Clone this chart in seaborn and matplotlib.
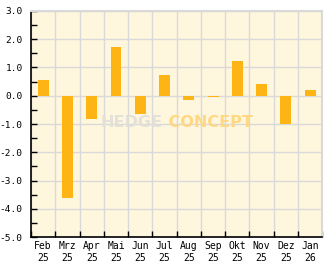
import numpy as np
import pandas as pd
import matplotlib
matplotlib.use("Agg")
import matplotlib.pyplot as plt
from matplotlib.ticker import MultipleLocator, FixedLocator
import seaborn as sns

months = ["Feb\n25", "Mrz\n25", "Apr\n25", "Mai\n25", "Jun\n25", "Jul\n25",
          "Aug\n25", "Sep\n25", "Okt\n25", "Nov\n25", "Dez\n25", "Jan\n26"]
values = [0.55, -3.60, -0.81, 1.72, -0.64, 0.73, -0.14, -0.03, 1.23, 0.41, -0.99, 0.20]
y_ticks = [3.0, 2.0, 1.0, 0.0, -1.0, -2.0, -3.0, -4.0, -5.0]

df = pd.DataFrame({"month": months, "value": values})

sns.set_theme(style="white")
plt.rcParams["font.family"] = ["DejaVu Sans Mono", "DejaVu Sans"]

fig = plt.figure(figsize=(3.32, 2.69), dpi=100)
ax = fig.add_axes([31 / 332, 1 - 237.3 / 269, (322.3 - 31) / 332, (237.3 - 10.7) / 269])
ax.set_facecolor("#FFF6DE")

grid_c = "#D9D9D9"
ax.set_ylim(-5, 3)
ax.set_xlim(-0.5, len(months) - 0.5)

# watermark
wx = (162.5 - 31) / 291.3
ax.text(wx, 0.505, "HEDGE", transform=ax.transAxes, ha="right", va="center",
        fontsize=11.5, fontweight="bold", color="#E2E0DA", alpha=0.95,
        family=["DejaVu Sans"], zorder=1.5)
ax.text(wx, 0.505, " CONCEPT", transform=ax.transAxes, ha="left", va="center",
        fontsize=11.5, fontweight="bold", color="#FFD77E", alpha=0.95,
        family=["DejaVu Sans"], zorder=1.5)

sns.barplot(data=df, x="month", y="value", color="#FDB515", saturation=1,
            width=0.45, ax=ax, zorder=3)
for p in ax.patches:
    p.set_edgecolor("none")
ax.set_xlim(-0.5, len(months) - 0.5)

ax.set_yticks(y_ticks)
ax.set_yticklabels([f"{v:.1f}" for v in y_ticks])
ax.yaxis.set_minor_locator(MultipleLocator(0.5))
ax.xaxis.set_minor_locator(FixedLocator(np.arange(-0.5, len(months), 1.0)))

ax.grid(False)
ax.grid(True, which="major", axis="y", color=grid_c, linewidth=1.0, zorder=0)
ax.grid(True, which="minor", axis="x", color=grid_c, linewidth=1.0, zorder=0)
ax.set_axisbelow(True)

ax.tick_params(axis="y", which="both", direction="in", length=4, width=1,
               color="black", labelsize=6.8, pad=6, labelcolor="black")
ax.tick_params(axis="x", which="major", length=0, labelsize=7, pad=3,
               labelcolor="black")
ax.tick_params(axis="x", which="minor", direction="in", length=4, width=1,
               color="black")
ax.tick_params(axis="y", which="minor", left=True)
ax.tick_params(axis="y", which="major", left=True)
ax.tick_params(axis="x", which="minor", bottom=True)

for lbl in ax.get_xticklabels():
    lbl.set_linespacing(1.25)

ax.set_xlabel("")
ax.set_ylabel("")
for s in ["left", "bottom"]:
    ax.spines[s].set_color("black")
    ax.spines[s].set_linewidth(1.2)
for s in ["top", "right"]:
    ax.spines[s].set_color(grid_c)
    ax.spines[s].set_linewidth(1.5)

fig.savefig("out.png", dpi=100, facecolor="white")
